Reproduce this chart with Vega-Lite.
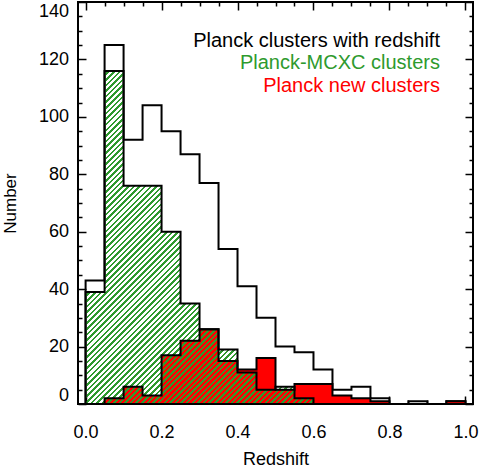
{
  "$schema": "https://vega.github.io/schema/vega-lite/v6.json",
  "width": 395,
  "height": 402,
  "autosize": {"type": "none"},
  "padding": {"left": 78, "top": 2, "right": 7, "bottom": 66},
  "config": {
    "view": {"stroke": "black", "strokeWidth": 2},
    "axis": {"domain": false, "grid": false, "tickColor": "black", "tickWidth": 1.5, "labelColor": "black", "titleColor": "black", "labelFont": "Liberation Sans", "titleFont": "Liberation Sans", "titleFontWeight": "normal", "labelOverlap": false}
  },
  "data": {"values": [
    {"lo": 0, "hi": 0.05, "total": 43, "mcxc": 39, "new": 0},
    {"lo": 0.05, "hi": 0.1, "total": 125, "mcxc": 116, "new": 2},
    {"lo": 0.1, "hi": 0.15, "total": 92, "mcxc": 76, "new": 6},
    {"lo": 0.15, "hi": 0.2, "total": 104, "mcxc": 76, "new": 3},
    {"lo": 0.2, "hi": 0.25, "total": 95, "mcxc": 60, "new": 17},
    {"lo": 0.25, "hi": 0.3, "total": 87, "mcxc": 35, "new": 22},
    {"lo": 0.3, "hi": 0.35, "total": 77, "mcxc": 26, "new": 26},
    {"lo": 0.35, "hi": 0.4, "total": 54, "mcxc": 19, "new": 15},
    {"lo": 0.4, "hi": 0.45, "total": 41, "mcxc": 11, "new": 12},
    {"lo": 0.45, "hi": 0.5, "total": 30, "mcxc": 5, "new": 16},
    {"lo": 0.5, "hi": 0.55, "total": 20, "mcxc": 6, "new": 5},
    {"lo": 0.55, "hi": 0.6, "total": 18, "mcxc": 2, "new": 7},
    {"lo": 0.6, "hi": 0.65, "total": 12, "mcxc": 0, "new": 7},
    {"lo": 0.65, "hi": 0.7, "total": 5, "mcxc": 0, "new": 3},
    {"lo": 0.7, "hi": 0.75, "total": 6, "mcxc": 0, "new": 2},
    {"lo": 0.75, "hi": 0.8, "total": 2, "mcxc": 0, "new": 1},
    {"lo": 0.8, "hi": 0.85, "total": 0, "mcxc": 0, "new": 0},
    {"lo": 0.85, "hi": 0.9, "total": 1, "mcxc": 0, "new": 0},
    {"lo": 0.9, "hi": 0.95, "total": 0, "mcxc": 0, "new": 0},
    {"lo": 0.95, "hi": 1, "total": 1, "mcxc": 0, "new": 1}
  ]},
  "layer": [
    {
      "transform": [{"fold": ["lo", "hi"], "as": ["edge", "z"]}],
      "mark": {"type": "area", "fill": "white", "fillOpacity": 0, "stroke": "black", "strokeWidth": 2, "strokeJoin": "miter"},
      "encoding": {
        "x": {"field": "z", "type": "quantitative", "scale": {"domain": [-0.02, 1.02], "nice": false, "zero": false},
          "axis": {"orient": "bottom", "values": [0, 0.2, 0.4, 0.6, 0.8, 1], "format": ".1f", "tickSize": -8, "labelPadding": 27, "labelFontSize": 18, "labelFlush": false, "title": "Redshift", "titleFontSize": 18, "titlePadding": 9}},
        "y": {"field": "total", "type": "quantitative", "stack": null, "scale": {"domain": [0, 140], "nice": false},
          "axis": {"orient": "left", "values": [0, 20, 40, 60, 80, 100, 120, 140], "tickSize": -8, "labelPadding": 17.5, "labelFontSize": 18, "labelFlush": true, "title": "Number", "titleFontSize": 17, "titlePadding": 19}},
        "order": [{"field": "z", "type": "quantitative"}, {"field": "edge", "type": "nominal"}]
      }
    },
    {
      "transform": [{"fold": ["lo", "hi"], "as": ["edge", "z"]}],
      "mark": {"type": "area", "fill": "#ff0000", "strokeWidth": 0},
      "encoding": {
        "x": {"field": "z", "type": "quantitative", "scale": {"domain": [-0.02, 1.02], "nice": false, "zero": false},
          "axis": {"orient": "bottom", "values": [0.05, 0.1, 0.15, 0.25, 0.3, 0.35, 0.45, 0.5, 0.55, 0.65, 0.7, 0.75, 0.85, 0.9, 0.95], "tickSize": -4, "labels": false, "title": null}},
        "y": {"field": "new", "type": "quantitative", "stack": null, "scale": {"domain": [0, 140], "nice": false},
          "axis": {"orient": "left", "values": [5, 10, 15, 25, 30, 35, 45, 50, 55, 65, 70, 75, 85, 90, 95, 105, 110, 115, 125, 130, 135], "tickSize": -4, "labels": false, "title": null}},
        "order": [{"field": "z", "type": "quantitative"}, {"field": "edge", "type": "nominal"}]
      }
    },
    {
      "transform": [{"fold": ["lo", "hi"], "as": ["edge", "z"]}, {"filter": "datum.mcxc > 0"}],
      "mark": {"type": "area", "stroke": "black", "strokeWidth": 2, "strokeJoin": "miter",
        "fill": {"gradient": "linear", "x1": 0, "y1": 0, "x2": 0.7849, "y2": 1.1472, "stops": [
{"offset":0,"color":"#2e9a2e"},{"offset":0.0045,"color":"#2e9a2e"},{"offset":0.0045,"color":"#0000"},{"offset":0.01,"color":"#0000"},
{"offset":0.01,"color":"#2e9a2e"},{"offset":0.0145,"color":"#2e9a2e"},{"offset":0.0145,"color":"#0000"},{"offset":0.02,"color":"#0000"},
{"offset":0.02,"color":"#2e9a2e"},{"offset":0.0245,"color":"#2e9a2e"},{"offset":0.0245,"color":"#0000"},{"offset":0.03,"color":"#0000"},
{"offset":0.03,"color":"#2e9a2e"},{"offset":0.0345,"color":"#2e9a2e"},{"offset":0.0345,"color":"#0000"},{"offset":0.04,"color":"#0000"},
{"offset":0.04,"color":"#2e9a2e"},{"offset":0.0445,"color":"#2e9a2e"},{"offset":0.0445,"color":"#0000"},{"offset":0.05,"color":"#0000"},
{"offset":0.05,"color":"#2e9a2e"},{"offset":0.0545,"color":"#2e9a2e"},{"offset":0.0545,"color":"#0000"},{"offset":0.06,"color":"#0000"},
{"offset":0.06,"color":"#2e9a2e"},{"offset":0.0645,"color":"#2e9a2e"},{"offset":0.0645,"color":"#0000"},{"offset":0.07,"color":"#0000"},
{"offset":0.07,"color":"#2e9a2e"},{"offset":0.0745,"color":"#2e9a2e"},{"offset":0.0745,"color":"#0000"},{"offset":0.08,"color":"#0000"},
{"offset":0.08,"color":"#2e9a2e"},{"offset":0.0845,"color":"#2e9a2e"},{"offset":0.0845,"color":"#0000"},{"offset":0.09,"color":"#0000"},
{"offset":0.09,"color":"#2e9a2e"},{"offset":0.0945,"color":"#2e9a2e"},{"offset":0.0945,"color":"#0000"},{"offset":0.1,"color":"#0000"},
{"offset":0.1,"color":"#2e9a2e"},{"offset":0.1045,"color":"#2e9a2e"},{"offset":0.1045,"color":"#0000"},{"offset":0.11,"color":"#0000"},
{"offset":0.11,"color":"#2e9a2e"},{"offset":0.1145,"color":"#2e9a2e"},{"offset":0.1145,"color":"#0000"},{"offset":0.12,"color":"#0000"},
{"offset":0.12,"color":"#2e9a2e"},{"offset":0.1245,"color":"#2e9a2e"},{"offset":0.1245,"color":"#0000"},{"offset":0.13,"color":"#0000"},
{"offset":0.13,"color":"#2e9a2e"},{"offset":0.1345,"color":"#2e9a2e"},{"offset":0.1345,"color":"#0000"},{"offset":0.14,"color":"#0000"},
{"offset":0.14,"color":"#2e9a2e"},{"offset":0.1445,"color":"#2e9a2e"},{"offset":0.1445,"color":"#0000"},{"offset":0.15,"color":"#0000"},
{"offset":0.15,"color":"#2e9a2e"},{"offset":0.1545,"color":"#2e9a2e"},{"offset":0.1545,"color":"#0000"},{"offset":0.16,"color":"#0000"},
{"offset":0.16,"color":"#2e9a2e"},{"offset":0.1645,"color":"#2e9a2e"},{"offset":0.1645,"color":"#0000"},{"offset":0.17,"color":"#0000"},
{"offset":0.17,"color":"#2e9a2e"},{"offset":0.1745,"color":"#2e9a2e"},{"offset":0.1745,"color":"#0000"},{"offset":0.18,"color":"#0000"},
{"offset":0.18,"color":"#2e9a2e"},{"offset":0.1845,"color":"#2e9a2e"},{"offset":0.1845,"color":"#0000"},{"offset":0.19,"color":"#0000"},
{"offset":0.19,"color":"#2e9a2e"},{"offset":0.1945,"color":"#2e9a2e"},{"offset":0.1945,"color":"#0000"},{"offset":0.2,"color":"#0000"},
{"offset":0.2,"color":"#2e9a2e"},{"offset":0.2045,"color":"#2e9a2e"},{"offset":0.2045,"color":"#0000"},{"offset":0.21,"color":"#0000"},
{"offset":0.21,"color":"#2e9a2e"},{"offset":0.2145,"color":"#2e9a2e"},{"offset":0.2145,"color":"#0000"},{"offset":0.22,"color":"#0000"},
{"offset":0.22,"color":"#2e9a2e"},{"offset":0.2245,"color":"#2e9a2e"},{"offset":0.2245,"color":"#0000"},{"offset":0.23,"color":"#0000"},
{"offset":0.23,"color":"#2e9a2e"},{"offset":0.2345,"color":"#2e9a2e"},{"offset":0.2345,"color":"#0000"},{"offset":0.24,"color":"#0000"},
{"offset":0.24,"color":"#2e9a2e"},{"offset":0.2445,"color":"#2e9a2e"},{"offset":0.2445,"color":"#0000"},{"offset":0.25,"color":"#0000"},
{"offset":0.25,"color":"#2e9a2e"},{"offset":0.2545,"color":"#2e9a2e"},{"offset":0.2545,"color":"#0000"},{"offset":0.26,"color":"#0000"},
{"offset":0.26,"color":"#2e9a2e"},{"offset":0.2645,"color":"#2e9a2e"},{"offset":0.2645,"color":"#0000"},{"offset":0.27,"color":"#0000"},
{"offset":0.27,"color":"#2e9a2e"},{"offset":0.2745,"color":"#2e9a2e"},{"offset":0.2745,"color":"#0000"},{"offset":0.28,"color":"#0000"},
{"offset":0.28,"color":"#2e9a2e"},{"offset":0.2845,"color":"#2e9a2e"},{"offset":0.2845,"color":"#0000"},{"offset":0.29,"color":"#0000"},
{"offset":0.29,"color":"#2e9a2e"},{"offset":0.2945,"color":"#2e9a2e"},{"offset":0.2945,"color":"#0000"},{"offset":0.3,"color":"#0000"},
{"offset":0.3,"color":"#2e9a2e"},{"offset":0.3045,"color":"#2e9a2e"},{"offset":0.3045,"color":"#0000"},{"offset":0.31,"color":"#0000"},
{"offset":0.31,"color":"#2e9a2e"},{"offset":0.3145,"color":"#2e9a2e"},{"offset":0.3145,"color":"#0000"},{"offset":0.32,"color":"#0000"},
{"offset":0.32,"color":"#2e9a2e"},{"offset":0.3245,"color":"#2e9a2e"},{"offset":0.3245,"color":"#0000"},{"offset":0.33,"color":"#0000"},
{"offset":0.33,"color":"#2e9a2e"},{"offset":0.3345,"color":"#2e9a2e"},{"offset":0.3345,"color":"#0000"},{"offset":0.34,"color":"#0000"},
{"offset":0.34,"color":"#2e9a2e"},{"offset":0.3445,"color":"#2e9a2e"},{"offset":0.3445,"color":"#0000"},{"offset":0.35,"color":"#0000"},
{"offset":0.35,"color":"#2e9a2e"},{"offset":0.3545,"color":"#2e9a2e"},{"offset":0.3545,"color":"#0000"},{"offset":0.36,"color":"#0000"},
{"offset":0.36,"color":"#2e9a2e"},{"offset":0.3645,"color":"#2e9a2e"},{"offset":0.3645,"color":"#0000"},{"offset":0.37,"color":"#0000"},
{"offset":0.37,"color":"#2e9a2e"},{"offset":0.3745,"color":"#2e9a2e"},{"offset":0.3745,"color":"#0000"},{"offset":0.38,"color":"#0000"},
{"offset":0.38,"color":"#2e9a2e"},{"offset":0.3845,"color":"#2e9a2e"},{"offset":0.3845,"color":"#0000"},{"offset":0.39,"color":"#0000"},
{"offset":0.39,"color":"#2e9a2e"},{"offset":0.3945,"color":"#2e9a2e"},{"offset":0.3945,"color":"#0000"},{"offset":0.4,"color":"#0000"},
{"offset":0.4,"color":"#2e9a2e"},{"offset":0.4045,"color":"#2e9a2e"},{"offset":0.4045,"color":"#0000"},{"offset":0.41,"color":"#0000"},
{"offset":0.41,"color":"#2e9a2e"},{"offset":0.4145,"color":"#2e9a2e"},{"offset":0.4145,"color":"#0000"},{"offset":0.42,"color":"#0000"},
{"offset":0.42,"color":"#2e9a2e"},{"offset":0.4245,"color":"#2e9a2e"},{"offset":0.4245,"color":"#0000"},{"offset":0.43,"color":"#0000"},
{"offset":0.43,"color":"#2e9a2e"},{"offset":0.4345,"color":"#2e9a2e"},{"offset":0.4345,"color":"#0000"},{"offset":0.44,"color":"#0000"},
{"offset":0.44,"color":"#2e9a2e"},{"offset":0.4445,"color":"#2e9a2e"},{"offset":0.4445,"color":"#0000"},{"offset":0.45,"color":"#0000"},
{"offset":0.45,"color":"#2e9a2e"},{"offset":0.4545,"color":"#2e9a2e"},{"offset":0.4545,"color":"#0000"},{"offset":0.46,"color":"#0000"},
{"offset":0.46,"color":"#2e9a2e"},{"offset":0.4645,"color":"#2e9a2e"},{"offset":0.4645,"color":"#0000"},{"offset":0.47,"color":"#0000"},
{"offset":0.47,"color":"#2e9a2e"},{"offset":0.4745,"color":"#2e9a2e"},{"offset":0.4745,"color":"#0000"},{"offset":0.48,"color":"#0000"},
{"offset":0.48,"color":"#2e9a2e"},{"offset":0.4845,"color":"#2e9a2e"},{"offset":0.4845,"color":"#0000"},{"offset":0.49,"color":"#0000"},
{"offset":0.49,"color":"#2e9a2e"},{"offset":0.4945,"color":"#2e9a2e"},{"offset":0.4945,"color":"#0000"},{"offset":0.5,"color":"#0000"},
{"offset":0.5,"color":"#2e9a2e"},{"offset":0.5045,"color":"#2e9a2e"},{"offset":0.5045,"color":"#0000"},{"offset":0.51,"color":"#0000"},
{"offset":0.51,"color":"#2e9a2e"},{"offset":0.5145,"color":"#2e9a2e"},{"offset":0.5145,"color":"#0000"},{"offset":0.52,"color":"#0000"},
{"offset":0.52,"color":"#2e9a2e"},{"offset":0.5245,"color":"#2e9a2e"},{"offset":0.5245,"color":"#0000"},{"offset":0.53,"color":"#0000"},
{"offset":0.53,"color":"#2e9a2e"},{"offset":0.5345,"color":"#2e9a2e"},{"offset":0.5345,"color":"#0000"},{"offset":0.54,"color":"#0000"},
{"offset":0.54,"color":"#2e9a2e"},{"offset":0.5445,"color":"#2e9a2e"},{"offset":0.5445,"color":"#0000"},{"offset":0.55,"color":"#0000"},
{"offset":0.55,"color":"#2e9a2e"},{"offset":0.5545,"color":"#2e9a2e"},{"offset":0.5545,"color":"#0000"},{"offset":0.56,"color":"#0000"},
{"offset":0.56,"color":"#2e9a2e"},{"offset":0.5645,"color":"#2e9a2e"},{"offset":0.5645,"color":"#0000"},{"offset":0.57,"color":"#0000"},
{"offset":0.57,"color":"#2e9a2e"},{"offset":0.5745,"color":"#2e9a2e"},{"offset":0.5745,"color":"#0000"},{"offset":0.58,"color":"#0000"},
{"offset":0.58,"color":"#2e9a2e"},{"offset":0.5845,"color":"#2e9a2e"},{"offset":0.5845,"color":"#0000"},{"offset":0.59,"color":"#0000"},
{"offset":0.59,"color":"#2e9a2e"},{"offset":0.5945,"color":"#2e9a2e"},{"offset":0.5945,"color":"#0000"},{"offset":0.6,"color":"#0000"},
{"offset":0.6,"color":"#2e9a2e"},{"offset":0.6045,"color":"#2e9a2e"},{"offset":0.6045,"color":"#0000"},{"offset":0.61,"color":"#0000"},
{"offset":0.61,"color":"#2e9a2e"},{"offset":0.6145,"color":"#2e9a2e"},{"offset":0.6145,"color":"#0000"},{"offset":0.62,"color":"#0000"},
{"offset":0.62,"color":"#2e9a2e"},{"offset":0.6245,"color":"#2e9a2e"},{"offset":0.6245,"color":"#0000"},{"offset":0.63,"color":"#0000"},
{"offset":0.63,"color":"#2e9a2e"},{"offset":0.6345,"color":"#2e9a2e"},{"offset":0.6345,"color":"#0000"},{"offset":0.64,"color":"#0000"},
{"offset":0.64,"color":"#2e9a2e"},{"offset":0.6445,"color":"#2e9a2e"},{"offset":0.6445,"color":"#0000"},{"offset":0.65,"color":"#0000"},
{"offset":0.65,"color":"#2e9a2e"},{"offset":0.6545,"color":"#2e9a2e"},{"offset":0.6545,"color":"#0000"},{"offset":0.66,"color":"#0000"},
{"offset":0.66,"color":"#2e9a2e"},{"offset":0.6645,"color":"#2e9a2e"},{"offset":0.6645,"color":"#0000"},{"offset":0.67,"color":"#0000"},
{"offset":0.67,"color":"#2e9a2e"},{"offset":0.6745,"color":"#2e9a2e"},{"offset":0.6745,"color":"#0000"},{"offset":0.68,"color":"#0000"},
{"offset":0.68,"color":"#2e9a2e"},{"offset":0.6845,"color":"#2e9a2e"},{"offset":0.6845,"color":"#0000"},{"offset":0.69,"color":"#0000"},
{"offset":0.69,"color":"#2e9a2e"},{"offset":0.6945,"color":"#2e9a2e"},{"offset":0.6945,"color":"#0000"},{"offset":0.7,"color":"#0000"},
{"offset":0.7,"color":"#2e9a2e"},{"offset":0.7045,"color":"#2e9a2e"},{"offset":0.7045,"color":"#0000"},{"offset":0.71,"color":"#0000"},
{"offset":0.71,"color":"#2e9a2e"},{"offset":0.7145,"color":"#2e9a2e"},{"offset":0.7145,"color":"#0000"},{"offset":0.72,"color":"#0000"},
{"offset":0.72,"color":"#2e9a2e"},{"offset":0.7245,"color":"#2e9a2e"},{"offset":0.7245,"color":"#0000"},{"offset":0.73,"color":"#0000"},
{"offset":0.73,"color":"#2e9a2e"},{"offset":0.7345,"color":"#2e9a2e"},{"offset":0.7345,"color":"#0000"},{"offset":0.74,"color":"#0000"},
{"offset":0.74,"color":"#2e9a2e"},{"offset":0.7445,"color":"#2e9a2e"},{"offset":0.7445,"color":"#0000"},{"offset":0.75,"color":"#0000"},
{"offset":0.75,"color":"#2e9a2e"},{"offset":0.7545,"color":"#2e9a2e"},{"offset":0.7545,"color":"#0000"},{"offset":0.76,"color":"#0000"},
{"offset":0.76,"color":"#2e9a2e"},{"offset":0.7645,"color":"#2e9a2e"},{"offset":0.7645,"color":"#0000"},{"offset":0.77,"color":"#0000"},
{"offset":0.77,"color":"#2e9a2e"},{"offset":0.7745,"color":"#2e9a2e"},{"offset":0.7745,"color":"#0000"},{"offset":0.78,"color":"#0000"},
{"offset":0.78,"color":"#2e9a2e"},{"offset":0.7845,"color":"#2e9a2e"},{"offset":0.7845,"color":"#0000"},{"offset":0.79,"color":"#0000"},
{"offset":0.79,"color":"#2e9a2e"},{"offset":0.7945,"color":"#2e9a2e"},{"offset":0.7945,"color":"#0000"},{"offset":0.8,"color":"#0000"},
{"offset":0.8,"color":"#2e9a2e"},{"offset":0.8045,"color":"#2e9a2e"},{"offset":0.8045,"color":"#0000"},{"offset":0.81,"color":"#0000"},
{"offset":0.81,"color":"#2e9a2e"},{"offset":0.8145,"color":"#2e9a2e"},{"offset":0.8145,"color":"#0000"},{"offset":0.82,"color":"#0000"},
{"offset":0.82,"color":"#2e9a2e"},{"offset":0.8245,"color":"#2e9a2e"},{"offset":0.8245,"color":"#0000"},{"offset":0.83,"color":"#0000"},
{"offset":0.83,"color":"#2e9a2e"},{"offset":0.8345,"color":"#2e9a2e"},{"offset":0.8345,"color":"#0000"},{"offset":0.84,"color":"#0000"},
{"offset":0.84,"color":"#2e9a2e"},{"offset":0.8445,"color":"#2e9a2e"},{"offset":0.8445,"color":"#0000"},{"offset":0.85,"color":"#0000"},
{"offset":0.85,"color":"#2e9a2e"},{"offset":0.8545,"color":"#2e9a2e"},{"offset":0.8545,"color":"#0000"},{"offset":0.86,"color":"#0000"},
{"offset":0.86,"color":"#2e9a2e"},{"offset":0.8645,"color":"#2e9a2e"},{"offset":0.8645,"color":"#0000"},{"offset":0.87,"color":"#0000"},
{"offset":0.87,"color":"#2e9a2e"},{"offset":0.8745,"color":"#2e9a2e"},{"offset":0.8745,"color":"#0000"},{"offset":0.88,"color":"#0000"},
{"offset":0.88,"color":"#2e9a2e"},{"offset":0.8845,"color":"#2e9a2e"},{"offset":0.8845,"color":"#0000"},{"offset":0.89,"color":"#0000"},
{"offset":0.89,"color":"#2e9a2e"},{"offset":0.8945,"color":"#2e9a2e"},{"offset":0.8945,"color":"#0000"},{"offset":0.9,"color":"#0000"},
{"offset":0.9,"color":"#2e9a2e"},{"offset":0.9045,"color":"#2e9a2e"},{"offset":0.9045,"color":"#0000"},{"offset":0.91,"color":"#0000"},
{"offset":0.91,"color":"#2e9a2e"},{"offset":0.9145,"color":"#2e9a2e"},{"offset":0.9145,"color":"#0000"},{"offset":0.92,"color":"#0000"},
{"offset":0.92,"color":"#2e9a2e"},{"offset":0.9245,"color":"#2e9a2e"},{"offset":0.9245,"color":"#0000"},{"offset":0.93,"color":"#0000"},
{"offset":0.93,"color":"#2e9a2e"},{"offset":0.9345,"color":"#2e9a2e"},{"offset":0.9345,"color":"#0000"},{"offset":0.94,"color":"#0000"},
{"offset":0.94,"color":"#2e9a2e"},{"offset":0.9445,"color":"#2e9a2e"},{"offset":0.9445,"color":"#0000"},{"offset":0.95,"color":"#0000"},
{"offset":0.95,"color":"#2e9a2e"},{"offset":0.9545,"color":"#2e9a2e"},{"offset":0.9545,"color":"#0000"},{"offset":0.96,"color":"#0000"},
{"offset":0.96,"color":"#2e9a2e"},{"offset":0.9645,"color":"#2e9a2e"},{"offset":0.9645,"color":"#0000"},{"offset":0.97,"color":"#0000"},
{"offset":0.97,"color":"#2e9a2e"},{"offset":0.9745,"color":"#2e9a2e"},{"offset":0.9745,"color":"#0000"},{"offset":0.98,"color":"#0000"},
{"offset":0.98,"color":"#2e9a2e"},{"offset":0.9845,"color":"#2e9a2e"},{"offset":0.9845,"color":"#0000"},{"offset":0.99,"color":"#0000"},
{"offset":0.99,"color":"#2e9a2e"},{"offset":0.9945,"color":"#2e9a2e"},{"offset":0.9945,"color":"#0000"},{"offset":1,"color":"#0000"}
        ]}},
      "encoding": {
        "x": {"field": "z", "type": "quantitative", "scale": {"domain": [-0.02, 1.02], "nice": false, "zero": false},
          "axis": {"orient": "top", "values": [0, 0.2, 0.4, 0.6, 0.8, 1], "tickSize": -8, "labels": false, "title": null}},
        "y": {"field": "mcxc", "type": "quantitative", "stack": null, "scale": {"domain": [0, 140], "nice": false},
          "axis": {"orient": "right", "values": [0, 20, 40, 60, 80, 100, 120, 140], "tickSize": -8, "labels": false, "title": null}},
        "order": [{"field": "z", "type": "quantitative"}, {"field": "edge", "type": "nominal"}]
      }
    },
    {
      "transform": [{"fold": ["lo", "hi"], "as": ["edge", "z"]}],
      "mark": {"type": "area", "fill": "white", "fillOpacity": 0, "stroke": "black", "strokeWidth": 2, "strokeJoin": "miter"},
      "encoding": {
        "x": {"field": "z", "type": "quantitative", "scale": {"domain": [-0.02, 1.02], "nice": false, "zero": false},
          "axis": {"orient": "top", "values": [0.05, 0.1, 0.15, 0.25, 0.3, 0.35, 0.45, 0.5, 0.55, 0.65, 0.7, 0.75, 0.85, 0.9, 0.95], "tickSize": -4, "labels": false, "title": null}},
        "y": {"field": "new", "type": "quantitative", "stack": null, "scale": {"domain": [0, 140], "nice": false},
          "axis": {"orient": "right", "values": [5, 10, 15, 25, 30, 35, 45, 50, 55, 65, 70, 75, 85, 90, 95, 105, 110, 115, 125, 130, 135], "tickSize": -4, "labels": false, "title": null}},
        "order": [{"field": "z", "type": "quantitative"}, {"field": "edge", "type": "nominal"}]
      }
    },
    {
      "data": {"values": [{"label": "Planck clusters with redshift"}]},
      "mark": {"type": "text", "align": "right", "baseline": "alphabetic", "font": "Liberation Sans", "fontSize": 20, "color": "black"},
      "encoding": {
        "x": {"datum": 0.933, "type": "quantitative", "scale": {"domain": [-0.02, 1.02], "nice": false, "zero": false}, "axis": null},
        "y": {"datum": 124.4, "type": "quantitative", "scale": {"domain": [0, 140], "nice": false}, "axis": null},
        "text": {"field": "label"}
      }
    },
    {
      "data": {"values": [{"label": "Planck-MCXC clusters"}]},
      "mark": {"type": "text", "align": "right", "baseline": "alphabetic", "font": "Liberation Sans", "fontSize": 20, "color": "#2e9a2e"},
      "encoding": {
        "x": {"datum": 0.933, "type": "quantitative", "scale": {"domain": [-0.02, 1.02], "nice": false, "zero": false}, "axis": null},
        "y": {"datum": 116.7, "type": "quantitative", "scale": {"domain": [0, 140], "nice": false}, "axis": null},
        "text": {"field": "label"}
      }
    },
    {
      "data": {"values": [{"label": "Planck new clusters"}]},
      "mark": {"type": "text", "align": "right", "baseline": "alphabetic", "font": "Liberation Sans", "fontSize": 20, "color": "#ff0000"},
      "encoding": {
        "x": {"datum": 0.933, "type": "quantitative", "scale": {"domain": [-0.02, 1.02], "nice": false, "zero": false}, "axis": null},
        "y": {"datum": 108.8, "type": "quantitative", "scale": {"domain": [0, 140], "nice": false}, "axis": null},
        "text": {"field": "label"}
      }
    }
  ],
  "resolve": {"axis": {"x": "independent", "y": "independent"}}
}
